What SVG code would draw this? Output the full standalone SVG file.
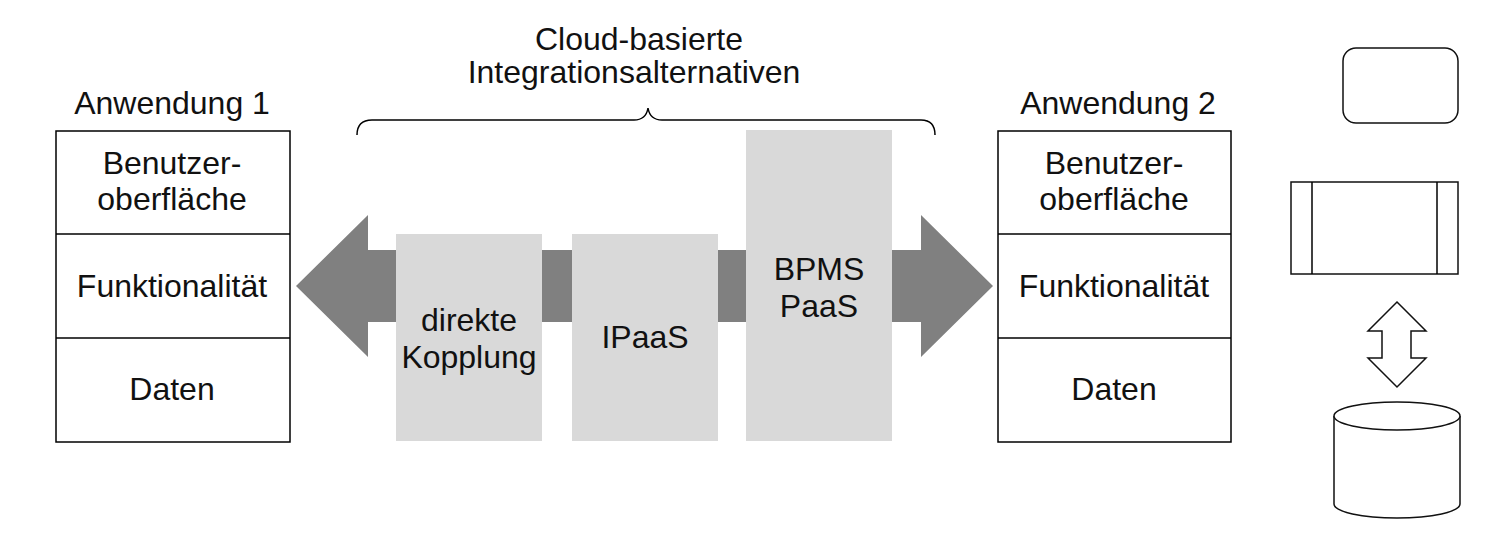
<svg xmlns="http://www.w3.org/2000/svg" width="1500" height="543" viewBox="0 0 1500 543">
<style>
text{font-family:"Liberation Sans",Arial,sans-serif;font-size:32px;fill:#111;text-anchor:middle}
.box{fill:#fff;stroke:#000;stroke-width:1.5}
.ln{stroke:#000;stroke-width:1.5;fill:none}
.alt{fill:#d9d9d9}
.arr{fill:#808080}
.lg{fill:#fff;stroke:#111;stroke-width:1.5}
</style>
<rect width="1500" height="543" fill="#fff"/>
<g id="connectors">
<path class="arr" d="M296,286 L368,215 L368,250 L921,250 L921,215 L993,286 L921,357 L921,322 L368,322 L368,357 Z"/>
</g>
<g id="title">
<text x="639" y="50">Cloud-basierte</text>
<text x="634" y="83">Integrationsalternativen</text>
<path class="ln" d="M357,135 Q357,120 372,120 L634,120 Q646,120 648,108 Q650,120 662,120 L921,120 Q935,120 935,135" stroke-width="1.2"/>
</g>
<g id="app1">
<text x="172" y="114">Anwendung 1</text>
<rect class="box" x="56" y="131" width="234" height="311"/>
<line class="ln" x1="56" y1="234" x2="290" y2="234"/>
<line class="ln" x1="56" y1="338" x2="290" y2="338"/>
<text x="172" y="174">Benutzer-</text>
<text x="172" y="210">oberfläche</text>
<text x="172" y="297">Funktionalität</text>
<text x="172" y="400">Daten</text>
</g>
<g id="direkte">
<rect class="alt" x="396" y="234" width="146" height="207"/>
<text x="469" y="331">direkte</text>
<text x="469" y="368">Kopplung</text>
</g>
<g id="ipaas">
<rect class="alt" x="572" y="234" width="146" height="207"/>
<text x="645" y="348">IPaaS</text>
</g>
<g id="bpms">
<rect class="alt" x="746" y="130" width="146" height="311"/>
<text x="819" y="280">BPMS</text>
<text x="819" y="317">PaaS</text>
</g>
<g id="app2">
<text x="1118" y="114">Anwendung 2</text>
<rect class="box" x="998" y="131" width="233" height="311"/>
<line class="ln" x1="998" y1="234" x2="1231" y2="234"/>
<line class="ln" x1="998" y1="338" x2="1231" y2="338"/>
<text x="1114" y="174">Benutzer-</text>
<text x="1114" y="210">oberfläche</text>
<text x="1114" y="297">Funktionalität</text>
<text x="1114" y="400">Daten</text>
</g>
<g id="legend-rounded">
<rect class="lg" x="1343" y="48" width="115" height="75" rx="13"/>
</g>
<g id="legend-process">
<rect class="lg" x="1291" y="182" width="167" height="92"/>
<line class="ln" x1="1312" y1="182" x2="1312" y2="274"/>
<line class="ln" x1="1437" y1="182" x2="1437" y2="274"/>
</g>
<g id="legend-arrow">
<path class="lg" d="M1397,302 L1426,331 L1411,331 L1411,358 L1426,358 L1397,387 L1368,358 L1382,358 L1382,331 L1368,331 Z" stroke-width="1.2"/>
</g>
<g id="legend-db">
<path class="lg" d="M1334,416 L1334,504 A63,14 0 0 0 1460,504 L1460,416"/>
<ellipse class="lg" cx="1397" cy="416" rx="63" ry="14"/>
</g>
</svg>
